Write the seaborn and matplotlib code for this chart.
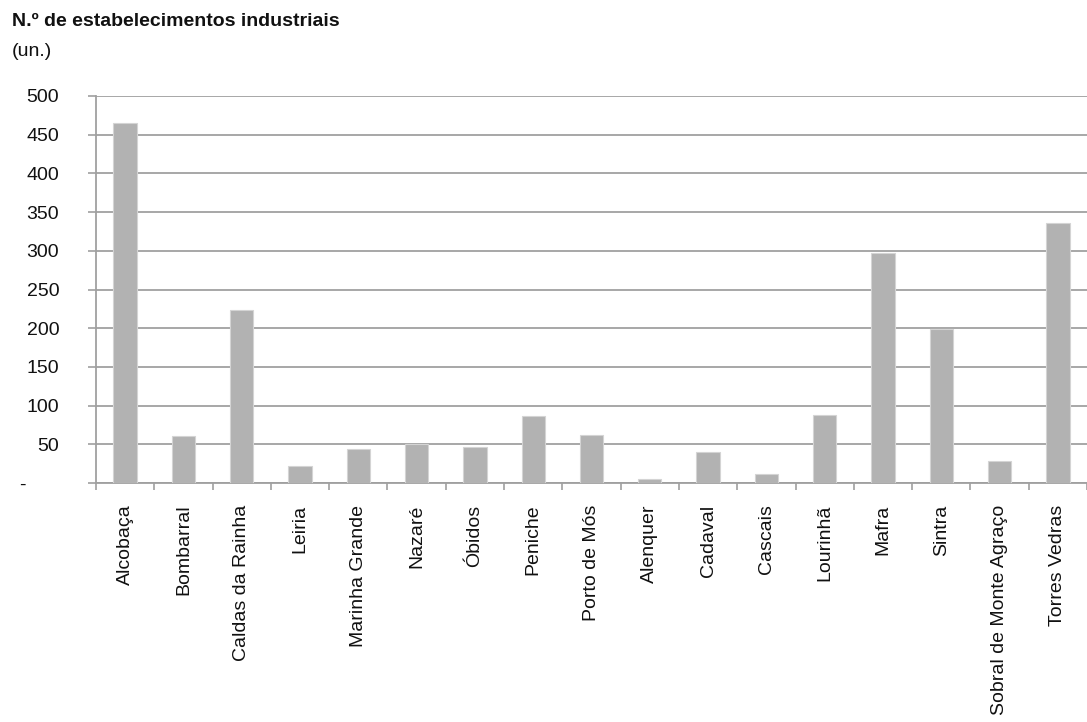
import matplotlib
matplotlib.use("Agg")
import matplotlib.pyplot as plt
import matplotlib.transforms as mtransforms
from matplotlib.ticker import FixedLocator, FuncFormatter
import seaborn as sns
import pandas as pd

municipios = ["Alcobaça", "Bombarral", "Caldas da Rainha", "Leiria", "Marinha Grande",
              "Nazaré", "Óbidos", "Peniche", "Porto de Mós", "Alenquer", "Cadaval",
              "Cascais", "Lourinhã", "Mafra", "Sintra", "Sobral de Monte Agraço",
              "Torres Vedras"]
estabelecimentos = [465, 61, 224, 22, 44, 51, 46, 86, 62, 5, 40, 11, 88, 297, 199, 29, 336]
y_ticks = [0, 50, 100, 150, 200, 250, 300, 350, 400, 450, 500]

df = pd.DataFrame({"municipio": municipios, "n": estabelecimentos})

sns.set_theme(style="white")
plt.rcParams["font.family"] = ["Liberation Sans", "DejaVu Sans"]

FS = 14

fig = plt.figure(figsize=(10.87, 7.22), dpi=100)
ax = fig.add_axes([96 / 1087, 1 - 483 / 722, 1 - 96 / 1087, (483 - 96) / 722])

sns.barplot(data=df, x="municipio", y="n", color="#b2b2b2", saturation=1,
            width=0.4, edgecolor="#d4d4d4", linewidth=0.8, ax=ax, zorder=3)

n = len(municipios)
ax.set_xlim(-0.5, n - 0.5)
ax.set_ylim(0, 500)
ax.set_xlabel("")
ax.set_ylabel("")

# gridlines
ax.set_yticks(y_ticks)
ax.yaxis.grid(True, color="#a0a0a0", linewidth=1.3, zorder=0)
ax.set_axisbelow(True)
ax.xaxis.grid(False)

ax.yaxis.set_major_formatter(FuncFormatter(lambda v, p: "-" if v == 0 else f"{int(v)}"))
ax.tick_params(axis="y", which="major", length=6, width=1.2, color="#a0a0a0",
               labelsize=FS, labelcolor="#111111", pad=20.5, direction="out", left=True)

# x ticks: boundaries (major, unlabeled) and centers (minor, labeled)
ax.xaxis.set_major_locator(FixedLocator([i - 0.5 for i in range(n + 1)]))
ax.xaxis.set_major_formatter(FuncFormatter(lambda v, p: ""))
ax.set_xticks(list(range(n)), minor=True)
ax.set_xticklabels(municipios, minor=True, rotation=90)
ax.tick_params(axis="x", which="major", length=5, width=1.2, color="#a0a0a0", bottom=True,
               direction="out")
ax.tick_params(axis="x", which="minor", length=0, labelsize=FS, labelcolor="#111111", pad=15.5)

for s in ["top", "right"]:
    ax.spines[s].set_visible(False)
for s in ["left", "bottom"]:
    ax.spines[s].set_color("#a0a0a0")
    ax.spines[s].set_linewidth(1.3)

# shift the "-" zero label to the left like the original
for lbl in ax.get_yticklabels():
    if lbl.get_text() == "-":
        lbl.set_transform(lbl.get_transform() +
                          mtransforms.ScaledTranslation(-0.34, 0, fig.dpi_scale_trans))

fig.text(12 / 1087, 1 - 22 / 722, "N.º de estabelecimentos industriais", fontsize=FS,
         fontweight="bold", color="#111111", va="center", ha="left")
fig.text(12 / 1087, 1 - 52 / 722, "(un.)", fontsize=FS, color="#111111",
         va="center", ha="left")

fig.savefig("out.png", dpi=100)
